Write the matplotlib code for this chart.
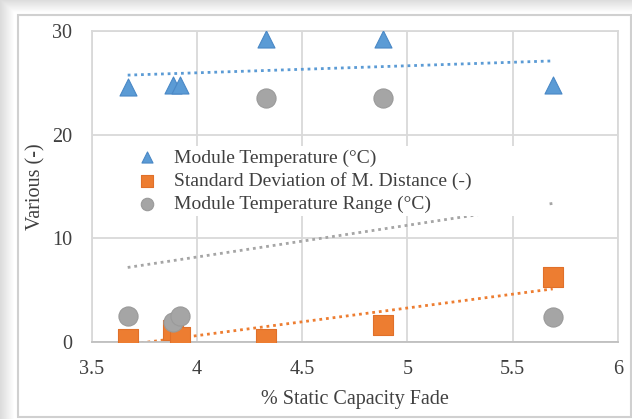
import numpy as np
import matplotlib
matplotlib.use("Agg")
import matplotlib.pyplot as plt
from matplotlib.patches import Rectangle

# values
fade = [3.671, 3.888, 3.92, 4.328, 4.885, 5.69]
module_temp = [24.6, 24.8, 24.8, 29.2, 29.2, 24.8]
std_dist = [0.26, 1.1, 0.45, 0.27, 1.6, 6.2]
temp_range = [2.48, 1.93, 2.5, 23.55, 23.5, 2.4]

labels = ["Module Temperature (°C)",
          "Standard Deviation of M. Distance (-)",
          "Module Temperature Range (°C)"]
xticks = [3.5, 4, 4.5, 5, 5.5, 6]
xticklabels = ["3.5", "4", "4.5", "5", "5.5", "6"]
yticks = [0, 10, 20, 30]

BLUE = "#5B9BD5"
ORANGE = "#ED7D31"
GRAY = "#A5A5A5"

plt.rcParams['font.family'] = ['Liberation Serif', 'DejaVu Serif']

W, H = 632, 419
fig = plt.figure(figsize=(W / 100, H / 100), dpi=100)

# soft shadow around the chart area, like a screenshot of an Excel chart
bg = fig.add_axes([0, 0, 1, 1], zorder=-5)
xx, yy = np.meshgrid(np.arange(W), np.arange(H))
shade = np.minimum(np.clip(xx / 14.0, 0, 1), np.clip(yy / 13.0, 0, 1))
img = 0.86 + 0.14 * shade
bg.imshow(img, cmap="gray", vmin=0, vmax=1, extent=(0, W, H, 0), aspect="auto")
bg.add_patch(Rectangle((18, 15), W - 19, H - 17, facecolor="white",
                       edgecolor="#d0d0d0", lw=1.5))
bg.set_xlim(0, W)
bg.set_ylim(H, 0)
bg.axis("off")

ax = fig.add_axes([91.7 / W, 1 - 341.7 / H, (618 - 91.7) / W, (341.7 - 31) / H])
ax.set_facecolor("none")

series = [(module_temp, BLUE, "^", 150, "#4a88c6"),
          (std_dist, ORANGE, "s", 190, "#e0702a"),
          (temp_range, GRAY, "o", 190, "#9a9a9a")]

for (vals, col, mk, s, ec), lab in zip(series, labels):
    ax.scatter(fade, vals, s=s, marker=mk, color=col, edgecolors=ec,
               linewidths=0.8, label=lab, zorder=4)

# linear trendlines (dotted), drawn over the data range
xs = np.array([min(fade), max(fade)])
for vals, col, *_ in series:
    k, b = np.polyfit(fade, vals, 1)
    ax.plot(xs, k * xs + b, linestyle=(0, (1, 1.4)), color=col, lw=2.0, zorder=2)

ax.set_xlim(3.5, 6)
ax.set_ylim(0, 30)
ax.set_xticks(xticks)
ax.set_xticklabels(xticklabels)
ax.set_yticks(yticks)
ax.grid(True, color="#d9d9d9", lw=1.3, zorder=0)
ax.set_axisbelow(True)
for side in ["top", "right", "left"]:
    ax.spines[side].set_color("#d9d9d9")
    ax.spines[side].set_linewidth(1.3)
ax.spines["bottom"].set_color("#bfbfbf")
ax.spines["bottom"].set_linewidth(1.3)
ax.tick_params(length=0, labelsize=14.5, colors="#404040")
ax.tick_params(axis="x", pad=13)
ax.tick_params(axis="y", pad=14)

ax.set_xlabel("% Static Capacity Fade", fontsize=14.5, color="#404040", labelpad=8)
ax.set_ylabel("Various (-)", fontsize=14.5, color="#404040", labelpad=5)

leg = ax.legend(loc="upper left", bbox_to_anchor=(0.078, 0.408, 0.789, 0.222),
                mode="expand", fontsize=14, frameon=True, fancybox=False,
                borderpad=0.15, labelspacing=0.28, handletextpad=0.75,
                handlelength=1.2, borderaxespad=0, markerscale=0.65)
leg.get_frame().set_facecolor("white")
leg.get_frame().set_edgecolor("none")
leg.get_frame().set_alpha(1)
leg.set_zorder(3)
for t in leg.get_texts():
    t.set_color("#404040")

fig.savefig("out.png", dpi=100)
